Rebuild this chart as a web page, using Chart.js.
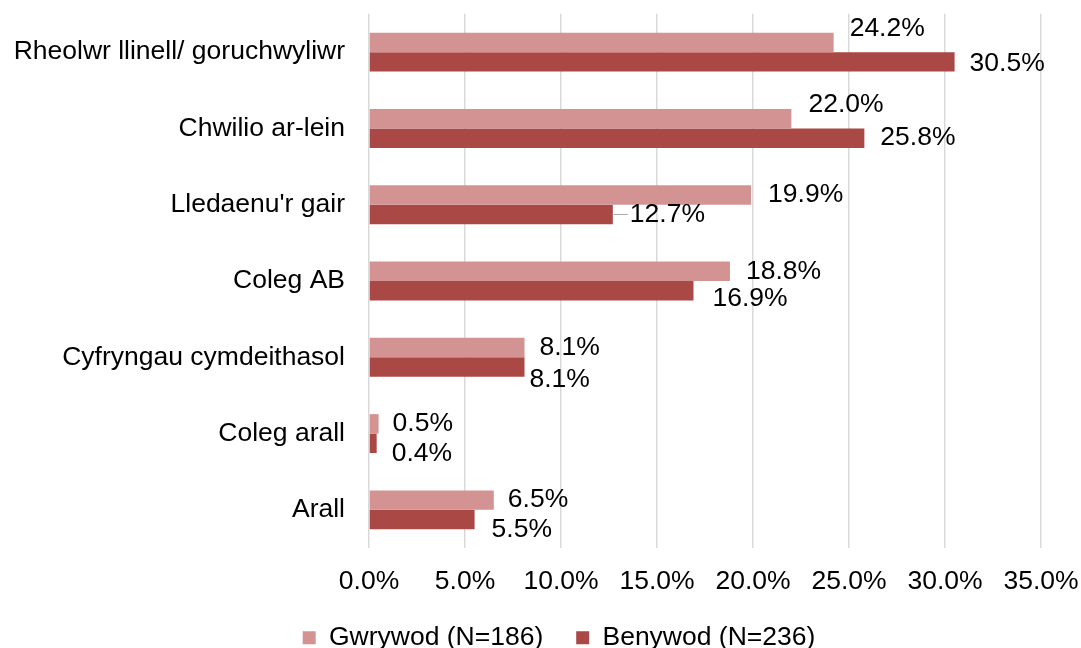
<!DOCTYPE html>
<html>
<head>
<meta charset="utf-8">
<script src="https://cdn.jsdelivr.net/npm/chart.js@4/dist/chart.umd.min.js"></script>
<style>
  html, body { margin: 0; padding: 0; background: #fff; overflow: hidden; }
</style>
</head>
<body>
<canvas id="chart" width="1081" height="648"></canvas>
<script>
const categories = [
  "Rheolwr llinell/ goruchwyliwr",
  "Chwilio ar-lein",
  "Lledaenu'r gair",
  "Coleg AB",
  "Cyfryngau cymdeithasol",
  "Coleg arall",
  "Arall"
];
const gwrywod = [24.2, 22.0, 19.9, 18.8, 8.1, 0.5, 6.5];
const benywod = [30.5, 25.8, 12.7, 16.9, 8.1, 0.4, 5.5];
const seriesNames = ["Gwrywod (N=186)", "Benywod (N=236)"];

const FONT = "'Liberation Sans', Arial, sans-serif";
const FS = 26.5;

// hand placed label nudges, like the original (dx, dy in px)
const labelNudge = [
  [[16, -14], [17, -14], [17, 0], [16, 0], [15, 0], [14, 0], [14, 0]],
  [[15, 2], [16, 0], [17, 0], [19, 8], [5, 13], [15, 10], [17, 10]]
];
const leaderLines = { "1-2": true }; // 12.7% has a little leader line

const valueLabels = {
  id: "valueLabels",
  afterDatasetsDraw(chart) {
    const ctx = chart.ctx;
    ctx.save();
    ctx.font = FS + "px " + FONT;
    ctx.fillStyle = "#000";
    ctx.textAlign = "left";
    ctx.textBaseline = "middle";
    chart.data.datasets.forEach((ds, di) => {
      const meta = chart.getDatasetMeta(di);
      meta.data.forEach((bar, i) => {
        const [dx, dy] = labelNudge[di][i];
        const tx = bar.x + dx;
        const ty = bar.y + dy;
        if (leaderLines[di + "-" + i]) {
          ctx.strokeStyle = "#A6A6A6";
          ctx.lineWidth = 1;
          ctx.beginPath();
          ctx.moveTo(bar.x + 1, bar.y);
          ctx.lineTo(tx - 2, ty);
          ctx.stroke();
        }
        ctx.fillText(ds.data[i].toFixed(1) + "%", tx, ty);
      });
    });
    ctx.restore();
  }
};

// legend in the original sits a bit right of centre
const legendShift = {
  id: "legendShift",
  afterLayout(chart) {
    chart.legend.left += 38.5;
    chart.legend.right += 38.5;
  }
};

new Chart(document.getElementById("chart"), {
  type: "bar",
  data: {
    labels: categories,
    datasets: [
      {
        label: seriesNames[0],
        data: gwrywod,
        backgroundColor: "#D49393",
        categoryPercentage: 0.51,
        barPercentage: 1.0
      },
      {
        label: seriesNames[1],
        data: benywod,
        backgroundColor: "#AA4845",
        categoryPercentage: 0.51,
        barPercentage: 1.0
      }
    ]
  },
  options: {
    indexAxis: "y",
    responsive: false,
    animation: false,
    layout: { padding: { left: 0, top: 14, right: 40, bottom: -13 } },
    plugins: {
      tooltip: { enabled: false },
      legend: {
        position: "bottom",
        labels: {
          font: { family: FONT, size: FS },
          color: "#000",
          boxWidth: 13,
          boxHeight: 13,
          padding: 33
        }
      }
    },
    scales: {
      x: {
        min: 0,
        max: 35,
        ticks: {
          stepSize: 5,
          padding: 18,
          color: "#000",
          font: { family: FONT, size: FS },
          callback: (v) => v.toFixed(1) + "%",
          maxRotation: 0
        },
        grid: { color: "#D9D9D9", lineWidth: 1.5, drawTicks: false },
        border: { display: false },
        afterFit: (scale) => {
          scale.height = 43.5;
          scale.paddingLeft = 0;
          scale.paddingRight = 0;
        }
      },
      y: {
        ticks: {
          padding: 16,
          color: "#000",
          font: { family: FONT, size: FS }
        },
        grid: { display: false },
        border: { display: false },
        afterFit: (scale) => {
          scale.width = 369;
          scale.paddingTop = 0;
          scale.paddingBottom = 0;
        }
      }
    }
  },
  plugins: [valueLabels, legendShift]
});
</script>
</body>
</html>
